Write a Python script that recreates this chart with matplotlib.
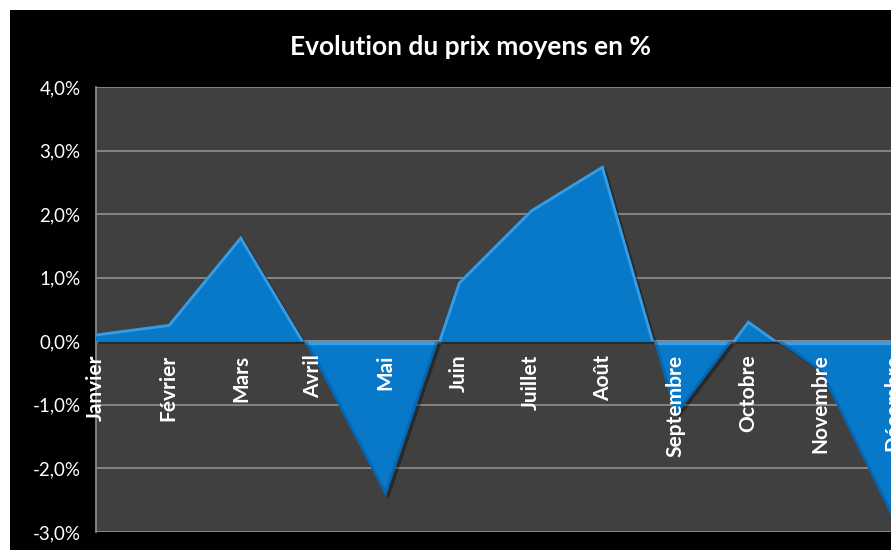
import matplotlib
matplotlib.use("Agg")
import matplotlib.pyplot as plt
import matplotlib.patheffects as pe
from matplotlib.patches import Rectangle
from matplotlib.ticker import FuncFormatter
import numpy as np

months = ["Janvier", "Février", "Mars", "Avril", "Mai", "Juin", "Juillet",
          "Août", "Septembre", "Octobre", "Novembre", "Décembre"]
values = [0.12, 0.27, 1.66, -0.25, -2.44, 0.93, 2.07, 2.77, -1.18, 0.33, -0.48, -2.8]
yticks = [-3, -2, -1, 0, 1, 2, 3, 4]
title = "Evolution du prix moyens en %"

W, H = 891, 550
fig = plt.figure(figsize=(W / 100, H / 100), dpi=100, facecolor="white")
fig.patches.append(Rectangle((10 / W, 0), 1, 1 - 10 / H, transform=fig.transFigure,
                             facecolor="black", edgecolor="none", zorder=-10))

ax = fig.add_axes([96 / W, (H - 532) / H, (893 - 96) / W, (532 - 87) / H])
ax.set_facecolor("#404040")

x = np.arange(len(months))
y = np.array(values)

base = "#0878C9"
light = "#3FA3EA"
dark = "#04579A"

pos = ax.fill_between(x, y, 0, where=y >= 0, interpolate=True, color=base, lw=0, zorder=3)
neg = ax.fill_between(x, y, 0, where=y <= 0, interpolate=True, color=base, lw=0, zorder=3)
for coll in (pos, neg):
    coll.set_path_effects([pe.SimplePatchShadow(offset=(2, -2), shadow_rgbFace="black", alpha=0.35),
                           pe.Normal()])

# bevel highlights (clipped inside the filled shapes)
for p in pos.get_paths():
    l, = ax.plot(x, y, color=light, lw=4, zorder=4, alpha=0.85, solid_joinstyle="round")
    l.set_clip_path(p, ax.transData)
for p in neg.get_paths():
    l, = ax.plot([x[0], x[-1]], [0, 0], color=light, lw=6, zorder=4, alpha=0.9)
    l.set_clip_path(p, ax.transData)
    l2, = ax.plot(x, y, color=dark, lw=4, zorder=4, alpha=0.5)
    l2.set_clip_path(p, ax.transData)

ax.set_xlim(0, len(months) - 1)
ax.set_ylim(-3, 4)
ax.set_yticks(yticks)
ax.yaxis.set_major_formatter(FuncFormatter(lambda v, _: f"{v:.1f}%".replace(".", ",")))
ax.grid(axis="y", color="#8a8a8a", lw=1.3, zorder=1)
ax.set_axisbelow(True)

ax.spines["bottom"].set_position(("data", 0))
for s in ("top", "right"):
    ax.spines[s].set_visible(False)
ax.spines["left"].set_color("#8a8a8a")
ax.spines["left"].set_linewidth(1.3)
ax.spines["bottom"].set_color("#8a8a8a")
ax.spines["bottom"].set_linewidth(1.3)

ax.set_xticks(x)
ax.set_xticklabels([])
ax.tick_params(axis="x", length=0)
for i, m in enumerate(months):
    ax.annotate(m, xy=(x[i], 0), xytext=(0, -9.5), textcoords="offset points",
                rotation=90, ha="center", va="top", color="white",
                fontfamily="Lato", fontweight="bold", fontsize=15,
                zorder=6, annotation_clip=False)

ax.tick_params(axis="y", length=0, pad=11, labelcolor="white", labelsize=13.5)
for t in ax.get_yticklabels():
    t.set_fontfamily("Lato")

fig.text(470 / W, 1 - 47 / H, title, ha="center", va="center", color="white",
         fontfamily="Lato", fontweight="bold", fontsize=19)

fig.savefig("out.png", dpi=100, facecolor=fig.get_facecolor())
